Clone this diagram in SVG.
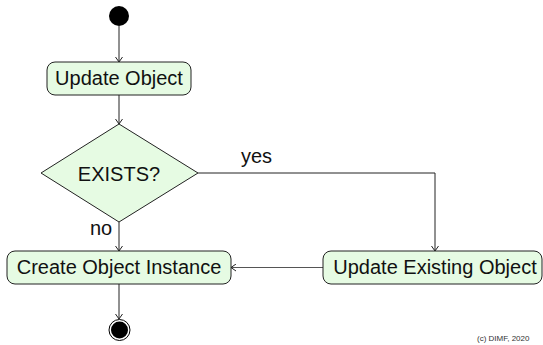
<svg xmlns="http://www.w3.org/2000/svg" width="543" height="345" viewBox="0 0 543 345">
<style>
.box{fill:#e6fbe3;stroke:#222;stroke-width:1}
.t{font-family:"Liberation Sans",Arial,sans-serif;font-size:20px;fill:#111}
.c{fill:none;stroke:#222;stroke-width:1}
.g{fill:none;stroke:#555;stroke-width:1.2}
</style>
<defs>
<marker id="ah" viewBox="-6 -4 7 8" refX="0" refY="0" markerWidth="7" markerHeight="8" markerUnits="userSpaceOnUse" orient="auto">
<path d="M-5,-3.5 L0,0 L-5,3.5" fill="none" stroke="#222" stroke-width="1"/>
</marker>
</defs>
<rect width="543" height="345" fill="#fff"/>
<g id="connectors">
<line class="c" x1="119" y1="26" x2="119" y2="62" marker-end="url(#ah)"/>
<line class="c" x1="119" y1="95" x2="119" y2="124" marker-end="url(#ah)"/>
<polyline class="c" points="198,173 435,173 435,251" marker-end="url(#ah)"/>
<line class="c" x1="119" y1="222" x2="119" y2="251" marker-end="url(#ah)"/>
<line class="g" x1="323" y1="267.5" x2="231" y2="267.5" marker-end="url(#ah)"/>
<line class="c" x1="119" y1="284" x2="119" y2="319" marker-end="url(#ah)"/>
<text class="t" x="241" y="163">yes</text>
<text class="t" x="90" y="235">no</text>
</g>
<g id="start"><circle cx="119" cy="16" r="10" fill="#000"/></g>
<g id="update-object">
<rect class="box" x="47" y="62" width="144" height="33" rx="8"/>
<text class="t" x="119" y="85" text-anchor="middle">Update Object</text>
</g>
<g id="exists">
<polygon class="box" points="119,124 198,173 119,222 41,173"/>
<text class="t" x="119" y="181" text-anchor="middle">EXISTS?</text>
</g>
<g id="create-object-instance">
<rect class="box" x="7" y="251" width="224" height="33" rx="8"/>
<text class="t" x="119" y="274" text-anchor="middle">Create Object Instance</text>
</g>
<g id="update-existing-object">
<rect class="box" x="323" y="251" width="219" height="33" rx="8"/>
<text class="t" x="435" y="274" text-anchor="middle">Update Existing Object</text>
</g>
<g id="end">
<circle cx="119.5" cy="330" r="10.5" fill="#fff" stroke="#000" stroke-width="1"/>
<circle cx="119.5" cy="330" r="8.5" fill="#000"/>
</g>
<text x="477" y="341" font-family="Liberation Sans,Arial,sans-serif" font-size="8" fill="#333">(c) DIMF, 2020</text>
</svg>
